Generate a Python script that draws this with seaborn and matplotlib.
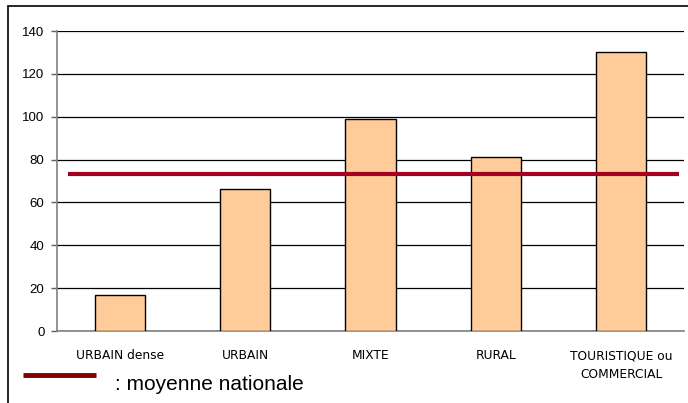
import pandas as pd
import matplotlib
matplotlib.use("Agg")
import matplotlib.pyplot as plt
from matplotlib.patches import Rectangle
import seaborn as sns

# données
categories = ["URBAIN dense", "URBAIN", "MIXTE", "RURAL", "TOURISTIQUE ou\nCOMMERCIAL"]
valeurs = [17, 66.5, 99, 81, 130]
moyenne_nationale = 73.5
y_ticks = [0, 20, 40, 60, 80, 100, 120, 140]

df = pd.DataFrame({"categorie": categories, "valeur": valeurs})

sns.set_style("white")
plt.rcParams["font.family"] = ["DejaVu Sans"]
plt.rcParams["text.color"] = "black"
plt.rcParams["xtick.color"] = "black"
plt.rcParams["ytick.color"] = "black"

fig = plt.figure(figsize=(6.88, 4.03), dpi=100)
ax = fig.add_axes([57 / 688, 1 - 331 / 403, (684 - 57) / 688, 300 / 403])

sns.barplot(data=df, x="categorie", y="valeur", color="#FFCC99",
            saturation=1, width=0.4, edgecolor="black", linewidth=1, ax=ax, zorder=3)

# ligne de la moyenne nationale
ax.plot([-0.41, 4.46], [moyenne_nationale] * 2, color="#A50021", lw=3, zorder=4,
        solid_capstyle="butt")

ax.set_xlim(-0.5, 4.5)
ax.set_ylim(0, 140)
ax.set_yticks(y_ticks)
ax.set_yticklabels([str(v) for v in y_ticks], family="Liberation Sans", fontsize=9.5)
ax.set_xticks([i - 0.5 for i in range(6)], minor=False)
ax.set_xticklabels([])
ax.set_xticks(range(5), minor=True)
ax.set_xticklabels(categories, minor=True, fontsize=8.8, linespacing=1.6, va="top")
ax.tick_params(axis="x", which="minor", length=0, pad=13, labelcolor="black")
ax.tick_params(axis="x", which="major", length=4, direction="out", color="#606060", width=1)
ax.tick_params(axis="y", length=4, direction="out", color="#606060", width=1, pad=5,
               left=True, labelcolor="black")

ax.grid(axis="y", color="black", lw=0.9, zorder=0)
ax.set_axisbelow(True)
for s in ["top", "right"]:
    ax.spines[s].set_visible(False)
ax.spines["left"].set_color("#808080")
ax.spines["bottom"].set_color("#808080")
ax.spines["left"].set_linewidth(1.2)
ax.spines["bottom"].set_linewidth(1.2)
ax.set_xlabel("")
ax.set_ylabel("")

# légende manuelle
fig.add_artist(plt.Line2D([23 / 688, 96 / 688], [1 - 375 / 403] * 2, color="#800000",
                          lw=3.5, solid_capstyle="butt", transform=fig.transFigure))
fig.text(115 / 688, 1 - 385 / 403, ": moyenne nationale", family="Liberation Sans",
         fontsize=15, va="center", ha="left", color="black")

# cadre extérieur
fig.add_artist(Rectangle((8 / 688, -0.2), 1.0, 1.2 - 6 / 403, transform=fig.transFigure,
                         fill=False, edgecolor="black", lw=1.2))

fig.savefig("out.png", dpi=100)
